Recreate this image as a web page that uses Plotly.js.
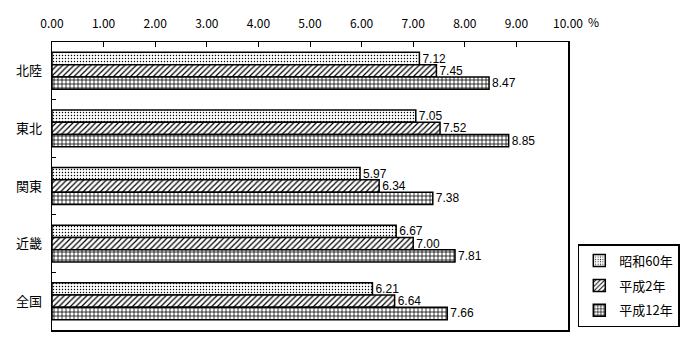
<!DOCTYPE html>
<html><head><meta charset="utf-8">
<script src="https://cdn.plot.ly/plotly-3.0.1.min.js"></script>
<style>body{margin:0;background:#fff}#c{width:700px;height:360px}</style>
</head><body><div id="c"></div>
<script>
const categories = ["北陸", "東北", "関東", "近畿", "全国"];
const seriesNames = ["昭和60年", "平成2年", "平成12年"];
const s60 = [7.12, 7.05, 5.97, 6.67, 6.21];
const h2 = [7.45, 7.52, 6.34, 7.00, 6.64];
const h12 = [8.47, 8.85, 7.38, 7.81, 7.66];
const xTicks = [0, 1, 2, 3, 4, 5, 6, 7, 8, 9, 10];

const F = '"Noto Sans CJK JP", "Noto Sans", sans-serif';
const patterns = [
  {shape: '.', size: 3, solidity: 0.18, fgcolor: '#000', bgcolor: '#fff'},
  {shape: '/', size: 4, solidity: 0.3, fgcolor: '#000', bgcolor: '#fff'},
  {shape: '+', size: 4, solidity: 0.35, fgcolor: '#000', bgcolor: '#fff'}
];
const vals = [s60, h2, h12];
const traces = vals.map((v, i) => ({
  type: 'bar', orientation: 'h', name: seriesNames[i],
  y: categories, x: v,
  text: v.map(d => d.toFixed(2)), textposition: 'outside', textangle: 0,
  constraintext: 'none', cliponaxis: false,
  textfont: {family: '"Liberation Sans", Arial, sans-serif', size: 12, color: '#000'},
  marker: {color: '#fff', line: {color: '#000', width: 1.5}, pattern: patterns[i]},
  legendgroup: 'g' + i, hoverinfo: 'none'
}));

Plotly.newPlot('c', traces, {
  width: 700, height: 360,
  margin: {l: 52, r: 132, t: 42, b: 30},
  paper_bgcolor: '#fff', plot_bgcolor: '#fff',
  barmode: 'group', bargap: 0.36, bargroupgap: 0,
  font: {family: F, color: '#000', size: 12},
  xaxis: {
    side: 'top', range: [0, 10], tickvals: xTicks,
    ticktext: xTicks.map(t => t.toFixed(2)),
    ticks: 'inside', ticklen: 5, tickcolor: '#000', tickwidth: 1,
    showline: true, linecolor: '#000', linewidth: 1.5, mirror: true,
    showgrid: false, zeroline: false, ticklabelstandoff: 8,
    tickfont: {family: F, size: 12}
  },
  yaxis: {
    autorange: 'reversed', tickson: 'boundaries',
    ticks: 'inside', ticklen: 4, tickcolor: '#000',
    showline: true, linecolor: '#000', linewidth: 1.5, mirror: true,
    showgrid: false, zeroline: false, ticklabelstandoff: 6,
    tickfont: {family: F, size: 13}
  },
  showlegend: true,
  legend: {
    x: 1.019, xanchor: 'left', y: 0.01, yanchor: 'bottom',
    bordercolor: '#000', borderwidth: 1.5, bgcolor: '#fff',
    traceorder: 'grouped', tracegroupgap: 5,
    font: {family: F, size: 13}, itemwidth: 30
  },
  annotations: [{
    text: '%', xref: 'paper', yref: 'paper', x: 1.05, y: 1, yanchor: 'bottom',
    xanchor: 'center', yshift: 10, showarrow: false, font: {family: F, size: 12}
  }]
}, {displayModeBar: false, staticPlot: true});
</script></body></html>
